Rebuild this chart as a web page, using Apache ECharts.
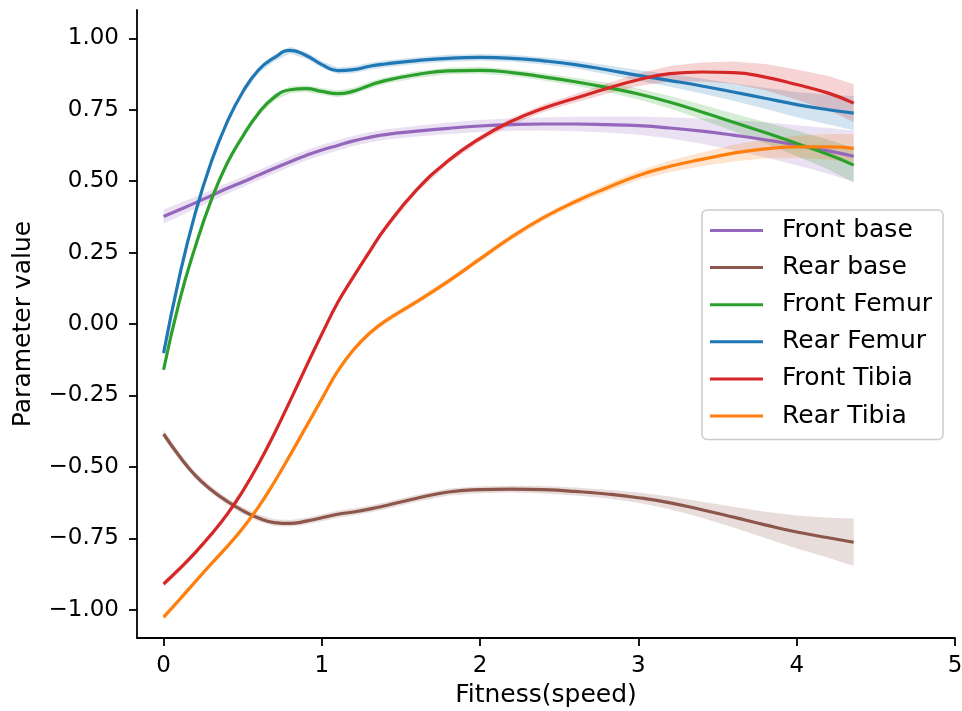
<!DOCTYPE html>
<html>
<head>
    <meta charset="utf-8"/>
    <title>Parameter value vs fitness</title>
    <script src="https://cdn.jsdelivr.net/npm/echarts@6/dist/echarts.min.js"></script>
</head>
<body style="margin:0">
<div id="main" style="width: 962px; height: 711px;"></div>
<script type="text/javascript">
    // sample positions along Fitness(speed)
    var xs = [0, 0.1, 0.2, 0.3, 0.4, 0.5, 0.6, 0.7, 0.8, 0.9, 1.0, 1.1, 1.2, 1.3, 1.4,
        1.6, 1.8, 2.0, 2.2, 2.4, 2.6, 2.8, 3.0, 3.2, 3.4, 3.6, 3.8, 4.0, 4.2, 4.36];

    var frontBase = [0.376, 0.400, 0.424, 0.449, 0.474, 0.497, 0.521, 0.545, 0.568, 0.590, 0.609, 0.625, 0.641, 0.653, 0.663,
        0.675, 0.685, 0.693, 0.698, 0.700, 0.700, 0.698, 0.694, 0.686, 0.675, 0.661, 0.645, 0.626, 0.606, 0.587];
    var rearBase = [-0.385, -0.463, -0.530, -0.580, -0.620, -0.653, -0.679, -0.695, -0.698, -0.690, -0.678, -0.666, -0.658, -0.648, -0.636,
        -0.610, -0.588, -0.580, -0.578, -0.580, -0.586, -0.595, -0.608, -0.626, -0.650, -0.676, -0.703, -0.728, -0.748, -0.764];
    var frontFemur = [-0.160, 0.080, 0.270, 0.432, 0.561, 0.657, 0.738, 0.794, 0.820, 0.824, 0.814, 0.806, 0.815, 0.835, 0.852,
        0.873, 0.886, 0.888, 0.880, 0.865, 0.848, 0.828, 0.805, 0.776, 0.742, 0.706, 0.670, 0.632, 0.593, 0.556];
    var rearFemur = [-0.102, 0.166, 0.388, 0.565, 0.705, 0.812, 0.889, 0.932, 0.958, 0.940, 0.908, 0.887, 0.890, 0.902, 0.910,
        0.922, 0.930, 0.933, 0.930, 0.921, 0.908, 0.890, 0.870, 0.852, 0.833, 0.812, 0.790, 0.768, 0.750, 0.738];
    var frontTibia = [-0.910, -0.857, -0.800, -0.737, -0.667, -0.585, -0.490, -0.383, -0.268, -0.150, -0.035, 0.075, 0.166, 0.252, 0.335,
        0.470, 0.572, 0.650, 0.710, 0.755, 0.790, 0.824, 0.855, 0.876, 0.882, 0.880, 0.864, 0.838, 0.808, 0.773];
    var rearTibia = [-1.026, -0.965, -0.902, -0.840, -0.780, -0.715, -0.640, -0.553, -0.458, -0.360, -0.262, -0.165, -0.090, -0.033, 0.010,
        0.078, 0.150, 0.228, 0.305, 0.372, 0.428, 0.476, 0.520, 0.552, 0.576, 0.598, 0.613, 0.620, 0.620, 0.615];

    // half width of the confidence band at each sample
    var frontBaseCi = [0.025, 0.023, 0.021, 0.020, 0.019, 0.018, 0.018, 0.018, 0.018, 0.018, 0.018, 0.018, 0.018, 0.018, 0.018,
        0.019, 0.020, 0.021, 0.022, 0.023, 0.025, 0.028, 0.032, 0.037, 0.044, 0.052, 0.061, 0.070, 0.080, 0.090];
    var rearBaseCi = [0.014, 0.013, 0.012, 0.012, 0.012, 0.012, 0.012, 0.012, 0.012, 0.012, 0.012, 0.012, 0.012, 0.012, 0.012,
        0.012, 0.012, 0.012, 0.012, 0.013, 0.014, 0.015, 0.018, 0.022, 0.028, 0.036, 0.046, 0.058, 0.070, 0.083];
    var frontFemurCi = [0.010, 0.010, 0.010, 0.010, 0.010, 0.010, 0.011, 0.012, 0.012, 0.012, 0.012, 0.012, 0.012, 0.012, 0.012,
        0.012, 0.012, 0.012, 0.012, 0.013, 0.014, 0.016, 0.019, 0.022, 0.026, 0.031, 0.037, 0.044, 0.052, 0.060];
    var rearFemurCi = [0.010, 0.010, 0.010, 0.010, 0.010, 0.010, 0.011, 0.012, 0.012, 0.012, 0.012, 0.012, 0.012, 0.012, 0.012,
        0.012, 0.012, 0.012, 0.012, 0.013, 0.014, 0.016, 0.019, 0.022, 0.026, 0.031, 0.037, 0.044, 0.052, 0.060];
    var frontTibiaCi = [0.010, 0.010, 0.010, 0.010, 0.010, 0.010, 0.010, 0.010, 0.010, 0.010, 0.010, 0.010, 0.010, 0.010, 0.010,
        0.010, 0.010, 0.011, 0.012, 0.013, 0.015, 0.018, 0.022, 0.027, 0.033, 0.039, 0.046, 0.053, 0.060, 0.066];
    var rearTibiaCi = [0.010, 0.010, 0.010, 0.010, 0.010, 0.010, 0.010, 0.010, 0.010, 0.010, 0.010, 0.010, 0.010, 0.010, 0.010,
        0.010, 0.010, 0.010, 0.010, 0.011, 0.012, 0.014, 0.016, 0.020, 0.024, 0.029, 0.034, 0.039, 0.045, 0.050];

    var names = ['Front base', 'Rear base', 'Front Femur', 'Rear Femur', 'Front Tibia', 'Rear Tibia'];
    var values = [frontBase, rearBase, frontFemur, rearFemur, frontTibia, rearTibia];
    var bands = [frontBaseCi, rearBaseCi, frontFemurCi, rearFemurCi, frontTibiaCi, rearTibiaCi];
    var colors = ['#9467bd', '#8c564b', '#2ca02c', '#1f77b4', '#d62728', '#ff7f0e'];

    var xTicks = [0, 1, 2, 3, 4, 5];
    var yTicks = [-1, -0.75, -0.5, -0.25, 0, 0.25, 0.5, 0.75, 1];

    var font = 'DejaVu Sans';

    // shaded band: polygon along upper edge and back along lower edge
    function bandSeries(ys, hw, color) {
        return {
            type: 'custom',
            silent: true,
            z: 1,
            data: [[xs[0], ys[0]]],
            renderItem: function (params, api) {
                var top = [], bottom = [];
                for (var i = 0; i < xs.length; i++) {
                    top.push(api.coord([xs[i], ys[i] + hw[i]]));
                    bottom.unshift(api.coord([xs[i], ys[i] - hw[i]]));
                }
                return {
                    type: 'polygon',
                    shape: {points: top.concat(bottom)},
                    style: {fill: echarts.color.modifyAlpha(color, 0.2)}
                };
            }
        };
    }

    var series = [];
    names.forEach(function (name, k) {
        series.push(bandSeries(values[k], bands[k], colors[k]));
    });
    names.forEach(function (name, k) {
        series.push({
            name: name,
            type: 'line',
            z: 3,
            color: colors[k],
            showSymbol: false,
            smooth: 0.5,
            lineStyle: {width: 3.2, color: colors[k]},
            data: xs.map(function (x, i) {
                return [x, values[k][i]];
            })
        });
    });

    var chart = echarts.init(document.getElementById('main'));
    var option = {
        animation: false,
        backgroundColor: '#ffffff',
        textStyle: {fontFamily: font},
        grid: {left: 137, right: 7, top: 10, bottom: 73, outerBoundsMode: 'none', containLabel: false},
        xAxis: {
            type: 'value',
            min: -0.168,
            max: 5,
            name: 'Fitness(speed)',
            nameLocation: 'middle',
            nameGap: 45,
            nameTextStyle: {fontSize: 25, color: '#000', fontFamily: font},
            splitLine: {show: false},
            axisLine: {onZero: false, lineStyle: {color: '#000', width: 1.8}},
            axisTick: {length: 8, lineStyle: {color: '#000', width: 1.8}, customValues: xTicks},
            axisLabel: {fontSize: 23, color: '#000', margin: 17, fontFamily: font, customValues: xTicks}
        },
        yAxis: {
            type: 'value',
            min: -1.099,
            max: 1.099,
            name: 'Parameter value',
            nameLocation: 'middle',
            nameGap: 101,
            nameTextStyle: {fontSize: 25, color: '#000', fontFamily: font},
            splitLine: {show: false},
            axisLine: {show: true, onZero: false, lineStyle: {color: '#000', width: 1.8}},
            axisTick: {show: true, length: 8, lineStyle: {color: '#000', width: 1.8}, customValues: yTicks},
            axisLabel: {
                fontSize: 23, color: '#000', margin: 18, fontFamily: font, customValues: yTicks,
                formatter: function (v) {
                    return v.toFixed(2).replace('-', '\u2212');
                }
            }
        },
        legend: {
            orient: 'vertical',
            left: 702,
            top: 210,
            data: names,
            icon: 'rect',
            itemWidth: 53,
            itemHeight: 3,
            itemGap: 12.1,
            padding: [8, 11, 11, 8],
            backgroundColor: 'rgba(255,255,255,0.8)',
            borderColor: '#cccccc',
            borderWidth: 1.5,
            borderRadius: 5,
            textStyle: {fontSize: 25, lineHeight: 25, color: '#000', fontFamily: font, padding: [0, 0, 0, 14]}
        },
        series: series
    };
    chart.setOption(option);
</script>
</body>
</html>
